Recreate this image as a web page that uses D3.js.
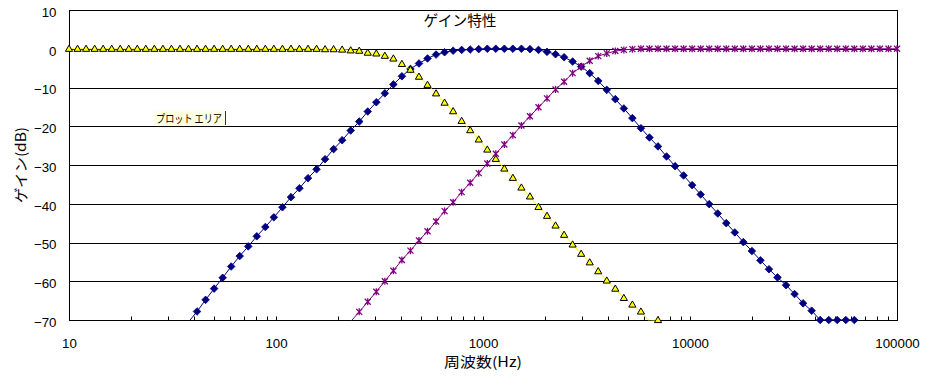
<!DOCTYPE html>
<html><head><meta charset="utf-8">
<script src="https://cdn.jsdelivr.net/npm/d3@7"></script>
<style>
html,body{margin:0;padding:0;background:#fff;}
svg{display:block;}
</style></head><body>
<svg id="chart" width="925" height="378"></svg>
<script>
// ---- data ----
const freqHz = [10, 11.00, 12.09, 13.30, 14.62, 16.08, 17.68, 19.44, 21.37, 23.50,
  25.84, 28.42, 31.25, 34.36, 37.78, 41.55, 45.69, 50.24, 55.24, 60.74,
  66.79, 73.45, 80.76, 88.81, 97.65, 107.4, 118.1, 129.8, 142.8, 157.0,
  172.6, 189.8, 208.7, 229.5, 252.4, 277.5, 305.2, 335.6, 369.0, 405.7,
  446.2, 490.6, 539.5, 593.2, 652.3, 717.3, 788.7, 867.3, 953.7, 1049,
  1153, 1268, 1394, 1533, 1686, 1854, 2038, 2241, 2465, 2710,
  2980, 3277, 3603, 3962, 4357, 4791, 5268, 5793, 6370, 7005,
  7702, 8469, 9313, 10240, 11260, 12380, 13615, 14971, 16463, 18103,
  19906, 21889, 24069, 26467, 29103, 32002, 35190, 38696, 42550, 46789,
  51450, 56575, 62211, 68408, 75222, 82716, 90955, 100000];

// yellow triangles (low-pass)
const lpfDb = [0, 0, 0, 0, 0, 0, 0, 0, 0, 0,
  0, 0, 0, 0, 0, 0, 0, 0, 0, 0,
  0, 0, 0, 0, 0, 0, 0, 0, 0, 0,
  -0.1, -0.1, -0.2, -0.4, -0.5, -1.0, -1.2, -1.8, -2.5, -3.9,
  -5.4, -7.2, -9.3, -11.5, -13.9, -16.1, -18.6, -21.0, -23.4, -26.0,
  -28.4, -30.9, -33.3, -35.8, -38.1, -40.8, -43.1, -45.6, -48.0, -50.5,
  -52.9, -55.1, -57.4, -59.8, -61.9, -64.3, -66.0, -67.8, -70.3, -70,
  null, null, null, null, null, null, null, null, null, null,
  null, null, null, null, null, null, null, null, null, null,
  null, null, null, null, null, null, null, null];

// navy diamonds (band-pass)
const bpfDb = [null, null, null, null, null, null, null, null, null, null,
  null, null, null, null, -70.5, -67.8, -64.8, -61.9, -59.1, -56.2,
  -53.5, -51.0, -48.4, -46.0, -43.5, -40.9, -38.3, -36.0, -33.4, -31.1,
  -28.5, -25.9, -23.6, -21.1, -18.8, -16.2, -13.8, -11.5, -9.2, -7.1,
  -5.2, -3.8, -2.5, -1.5, -0.9, -0.5, -0.3, -0.2, -0.1, 0,
  0, 0, 0, 0, -0.1, -0.3, -0.8, -1.4, -2.2, -3.3,
  -4.6, -6.3, -8.3, -10.6, -13.0, -15.4, -17.9, -20.5, -22.9, -25.2,
  -27.8, -30.3, -32.7, -35.2, -37.6, -40.1, -42.5, -45.0, -47.4, -49.9,
  -52.2, -54.6, -56.9, -59.0, -61.0, -63.3, -65.7, -67.6, -70, -70,
  -70, -70, -70, null, null, null, null, null];

// purple stars (high-pass)
const hpfDb = [null, null, null, null, null, null, null, null, null, null,
  null, null, null, null, null, null, null, null, null, null,
  null, null, null, null, null, null, null, null, null, null,
  null, null, null, -70.4, -67.9, -65.3, -62.7, -60.0, -57.3, -54.5,
  -52.1, -49.5, -47.1, -44.6, -41.9, -39.6, -37.0, -34.6, -32.1, -29.6,
  -27.1, -24.7, -22.3, -19.8, -17.4, -15.1, -12.8, -10.5, -8.5, -6.3,
  -4.6, -3.1, -1.9, -1.2, -0.6, -0.3, -0.1, 0, 0, 0,
  0, 0, 0, 0, 0, 0, 0, 0, 0, 0,
  0, 0, 0, 0, 0, 0, 0, 0, 0, 0,
  0, 0, 0, 0, 0, 0, 0, 0];

const yTicks = [10, 0, -10, -20, -30, -40, -50, -60, -70];
const xLabelTicks = [10, 100, 1000, 10000, 100000];
const chartTitle = "ゲイン特性";
const xTitle = "周波数(Hz)";
const yTitle = "ゲイン(dB)";
const tipText = "プロット エリア";

// ---- layout ----
const L = 69, R = 897, T = 10, B = 320;
const svg = d3.select("#chart");
const x = d3.scaleLog().domain([10, 100000]).range([L, R]);
const y = d3.scaleLinear().domain([-70, 10]).range([B, T]);
const crisp = v => Math.round(v) + 0.5;
const numFont = "'Liberation Sans', Arial, sans-serif";
const jpFont = "'Noto Sans CJK JP', sans-serif";

svg.append("rect").attr("width", 925).attr("height", 378).attr("fill", "#fff");

// gridlines
svg.append("g").selectAll("line").data(yTicks).join("line")
  .attr("x1", L).attr("x2", R + 0.5)
  .attr("y1", d => crisp(y(d))).attr("y2", d => crisp(y(d)))
  .attr("stroke", "#000").attr("stroke-width", 1);

// plot border
svg.append("rect").attr("x", L + 0.5).attr("y", T + 0.5)
  .attr("width", R - L).attr("height", B - T)
  .attr("fill", "none").attr("stroke", "#000").attr("stroke-width", 1);

// x minor/major ticks (inward)
const xTickG = svg.append("g").attr("transform", `translate(0.5,${B + 0.5})`)
  .call(d3.axisBottom(x).tickValues(x.ticks()).tickSizeInner(-4).tickSizeOuter(0).tickFormat(""));
xTickG.select(".domain").remove();
xTickG.selectAll("line").attr("stroke", "#000")
  .attr("transform", null)
  .attr("x1", d => Math.round(x(d))).attr("x2", d => Math.round(x(d)));
xTickG.selectAll(".tick").attr("transform", null);

// x labels
const xLab = svg.append("g").attr("transform", `translate(0,${B})`)
  .call(d3.axisBottom(x).tickValues(xLabelTicks).tickSize(0).tickPadding(18.6).tickFormat(d3.format("d")));
xLab.select(".domain").remove();
xLab.selectAll("text").attr("font-family", numFont).attr("font-size", "13.3px").attr("fill", "#000");

// y labels
const yLab = svg.append("g").attr("transform", `translate(${L},0)`)
  .call(d3.axisLeft(y).tickValues(yTicks).tickSize(0).tickPadding(12.5).tickFormat(d3.format("d")));
yLab.select(".domain").remove();
yLab.selectAll("text").attr("font-family", numFont).attr("font-size", "13.3px")
  .attr("fill", "#000").attr("dy", "0.47em");

// clip for lines
svg.append("clipPath").attr("id", "plotclip").append("rect")
  .attr("x", L).attr("y", T).attr("width", R - L + 1).attr("height", B - T + 0.5);

const series = [
  { values: bpfDb, color: "#000080", marker: "diamond" },
  { values: lpfDb, color: "#FFFF00", marker: "triangle" },
  { values: hpfDb, color: "#800080", marker: "star" }
];

const markerPath = {
  diamond: "M0,-3.8L3.8,0L0,3.8L-3.8,0Z",
  triangle: "M0,-3.6L3.6,2.6L-3.6,2.6Z",
  star: "M-3,-3L3,3M-3,3L3,-3M0,-3.5L0,3.5"
};

series.forEach(s => {
  const pts = freqHz.map((f, i) => ({ f, v: s.values[i] }));
  const line = d3.line().defined(d => d.v !== null).x(d => x(d.f)).y(d => y(d.v));
  svg.append("path").attr("clip-path", "url(#plotclip)")
    .attr("d", line(pts)).attr("fill", "none")
    .attr("stroke", s.color).attr("stroke-width", 1);
  const vis = pts.filter(d => d.v !== null && d.v >= -70);
  const m = svg.append("g").selectAll("path").data(vis).join("path")
    .attr("transform", d => `translate(${x(d.f)},${y(d.v)})`)
    .attr("d", markerPath[s.marker]);
  if (s.marker === "diamond") m.attr("fill", s.color).attr("stroke", s.color).attr("stroke-width", 0.8);
  else if (s.marker === "triangle") m.attr("fill", s.color).attr("stroke", "#000").attr("stroke-width", 1);
  else m.attr("fill", "none").attr("stroke", s.color).attr("stroke-width", 1.3);
});

// titles
svg.append("text").attr("x", 460).attr("y", 26).attr("text-anchor", "middle")
  .attr("font-family", jpFont).attr("font-size", "15px").attr("fill", "#000")
  .attr("textLength", 73).attr("lengthAdjust", "spacingAndGlyphs").text(chartTitle);
svg.append("text").attr("x", (L + R) / 2).attr("y", 367).attr("text-anchor", "middle")
  .attr("font-family", jpFont).attr("font-size", "14px").attr("fill", "#000")
  .attr("textLength", 78).attr("lengthAdjust", "spacingAndGlyphs").text(xTitle);
svg.append("text").attr("transform", `translate(25.5,${(T + B) / 2}) rotate(-90)`)
  .attr("text-anchor", "middle")
  .attr("font-family", jpFont).attr("font-size", "14px").attr("fill", "#000")
  .attr("textLength", 76).attr("lengthAdjust", "spacingAndGlyphs").text(yTitle);

// "plot area" tooltip
const tip = svg.append("g");
tip.append("rect").attr("x", 154).attr("y", 111).attr("width", 71).attr("height", 14).attr("fill", "#FFFFE1");
tip.append("line").attr("x1", 225.5).attr("x2", 225.5).attr("y1", 111).attr("y2", 125).attr("stroke", "#333");
tip.append("text").attr("x", 156).attr("y", 122.5)
  .attr("font-family", jpFont).attr("font-size", "11px").attr("fill", "#000")
  .attr("textLength", 66).attr("lengthAdjust", "spacingAndGlyphs").text(tipText);
</script>
</body></html>
